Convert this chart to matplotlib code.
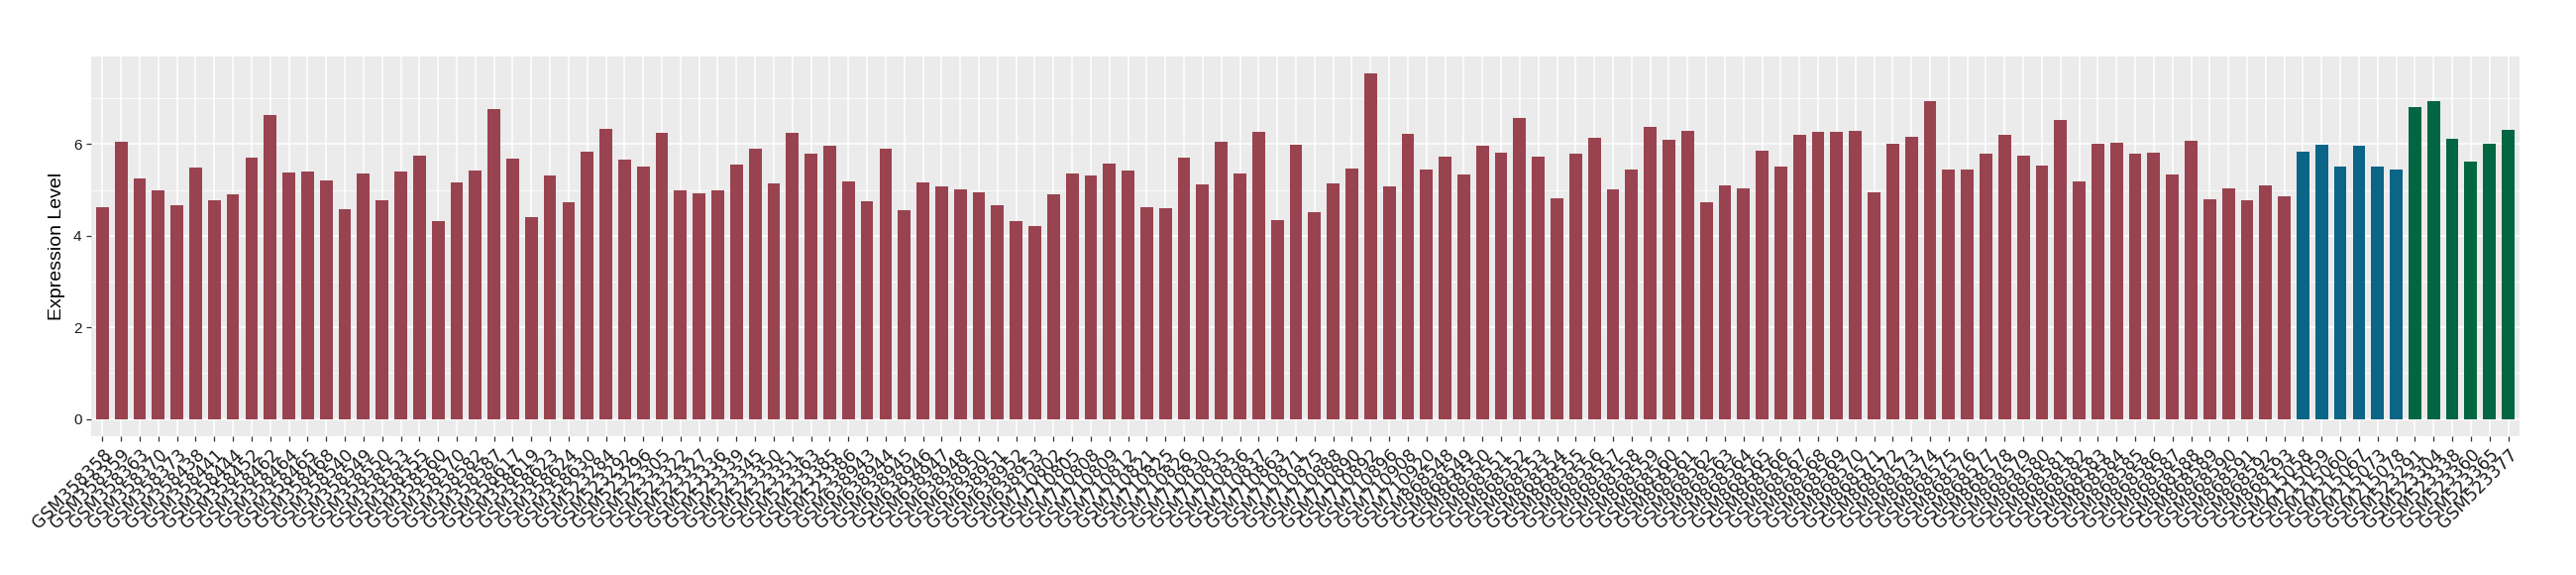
import numpy as np
import matplotlib
matplotlib.use("Agg")
import matplotlib.pyplot as plt
from matplotlib.ticker import MultipleLocator

# --- data: one group per colour -------------------------------------------
samples_red = [
    "GSM358358", "GSM358359", "GSM358363", "GSM358370", "GSM358373", "GSM358438",
    "GSM358441", "GSM358444", "GSM358452", "GSM358462", "GSM358464", "GSM358465",
    "GSM358468", "GSM358540", "GSM358549", "GSM358550", "GSM358553", "GSM358555",
    "GSM358560", "GSM358570", "GSM358582", "GSM358587", "GSM358617", "GSM358619",
    "GSM358623", "GSM358624", "GSM358630",
    "GSM523284", "GSM523292", "GSM523296", "GSM523305", "GSM523322", "GSM523327",
    "GSM523336", "GSM523339", "GSM523345", "GSM523350", "GSM523351", "GSM523363",
    "GSM523385", "GSM523386",
    "GSM638943", "GSM638944", "GSM638945", "GSM638946", "GSM638947", "GSM638948",
    "GSM638950", "GSM638951", "GSM638952", "GSM638953",
    "GSM710802", "GSM710805", "GSM710808", "GSM710809", "GSM710812", "GSM710821",
    "GSM710825", "GSM710826", "GSM710830", "GSM710835", "GSM710836", "GSM710837",
    "GSM710863", "GSM710871", "GSM710875", "GSM710888", "GSM710890", "GSM710892",
    "GSM710896", "GSM710908", "GSM710920",
    "GSM868548", "GSM868549", "GSM868550", "GSM868551", "GSM868552", "GSM868553",
    "GSM868554", "GSM868555", "GSM868556", "GSM868557", "GSM868558", "GSM868559",
    "GSM868560", "GSM868561", "GSM868562", "GSM868563", "GSM868564", "GSM868565",
    "GSM868566", "GSM868567", "GSM868568", "GSM868569", "GSM868570", "GSM868571",
    "GSM868572", "GSM868573", "GSM868574", "GSM868575", "GSM868576", "GSM868577",
    "GSM868578", "GSM868579", "GSM868580", "GSM868581", "GSM868582", "GSM868583",
    "GSM868584", "GSM868585", "GSM868586", "GSM868587", "GSM868588", "GSM868589",
    "GSM868590", "GSM868591", "GSM868592", "GSM868593",
]
values_red = [
    4.63, 6.05, 5.25, 4.99, 4.67, 5.49, 4.78, 4.91, 5.71, 6.63, 5.38, 5.40,
    5.21, 4.58, 5.36, 4.78, 5.40, 5.75, 4.32, 5.17, 5.42, 6.76, 5.68, 4.41,
    5.32, 4.73, 5.83,
    6.33, 5.66, 5.51, 6.24, 4.99, 4.93, 4.99, 5.55, 5.90, 5.14, 6.24, 5.79,
    5.96, 5.19,
    4.76, 5.90, 4.56, 5.17, 5.08, 5.01, 4.95, 4.67, 4.32, 4.22,
    4.91, 5.36, 5.32, 5.58, 5.42, 4.63, 4.60, 5.71, 5.12, 6.05, 5.36, 6.27,
    4.35, 5.99, 4.52, 5.14, 5.47, 7.54, 5.08, 6.22, 5.45,
    5.73, 5.34, 5.96, 5.81, 6.57, 5.73, 4.82, 5.79, 6.14, 5.01, 5.45, 6.37,
    6.09, 6.29, 4.73, 5.10, 5.04, 5.86, 5.51, 6.20, 6.27, 6.27, 6.29, 4.95,
    6.01, 6.16, 6.94, 5.45, 5.45, 5.79, 6.20, 5.75, 5.53, 6.53, 5.19, 6.01,
    6.03, 5.79, 5.81, 5.34, 6.07, 4.80, 5.04, 4.78, 5.10, 4.86,
]

samples_blue = ["GSM215058", "GSM215059", "GSM215060", "GSM215067", "GSM215073", "GSM215078"]
values_blue = [5.83, 5.99, 5.51, 5.96, 5.51, 5.45]

samples_green = ["GSM523291", "GSM523304", "GSM523338", "GSM523360", "GSM523365", "GSM523377"]
values_green = [6.81, 6.94, 6.12, 5.62, 6.01, 6.31]

group_colors = ["#9A4350", "#0A6587", "#036643"]

# --- figure ----------------------------------------------------------------
fig = plt.figure(figsize=(26, 5.8), dpi=100)
ax = fig.add_axes([0.0354, 0.2414, 0.9426, 0.6606])

labels = samples_red + samples_blue + samples_green
groups = [(values_red, group_colors[0]), (values_blue, group_colors[1]),
          (values_green, group_colors[2])]

start = 0
for vals, col in groups:
    xs = np.arange(start, start + len(vals))
    ax.bar(xs, vals, width=0.68, color=col, zorder=3)
    start += len(vals)

n = len(labels)
all_vals = values_red + values_blue + values_green
ymax = max(all_vals)
ax.set_xlim(-0.6, n - 1 + 0.6)
ax.set_ylim(-0.05 * ymax, 1.05 * ymax)

# ggplot-ish grey panel with white grid
ax.set_facecolor("#EBEBEB")
for s in ax.spines.values():
    s.set_visible(False)
ax.yaxis.set_major_locator(MultipleLocator(2))
ax.yaxis.set_minor_locator(MultipleLocator(1))
ax.grid(True, which="major", color="white", linewidth=1.1, zorder=0)
ax.grid(True, which="minor", axis="y", color="white", linewidth=0.55, zorder=0)
ax.set_axisbelow(True)

ax.set_xticks(np.arange(n))
ax.set_xticklabels(labels, rotation=45, ha="right", va="top",
                   rotation_mode="anchor", fontsize=12.5, color="#1A1A1A",
                   family="DejaVu Sans")
ax.tick_params(axis="both", which="major", length=3.8, width=0.9,
               color="#333333", pad=3)
ax.tick_params(axis="y", which="minor", length=0)
ax.tick_params(axis="y", labelsize=11, labelcolor="#1A1A1A")
for t in ax.get_yticklabels():
    t.set_family("Liberation Sans")

ax.set_ylabel("Expression Level", fontsize=14, family="Liberation Sans",
              labelpad=6)

fig.savefig("out.png", dpi=100)
